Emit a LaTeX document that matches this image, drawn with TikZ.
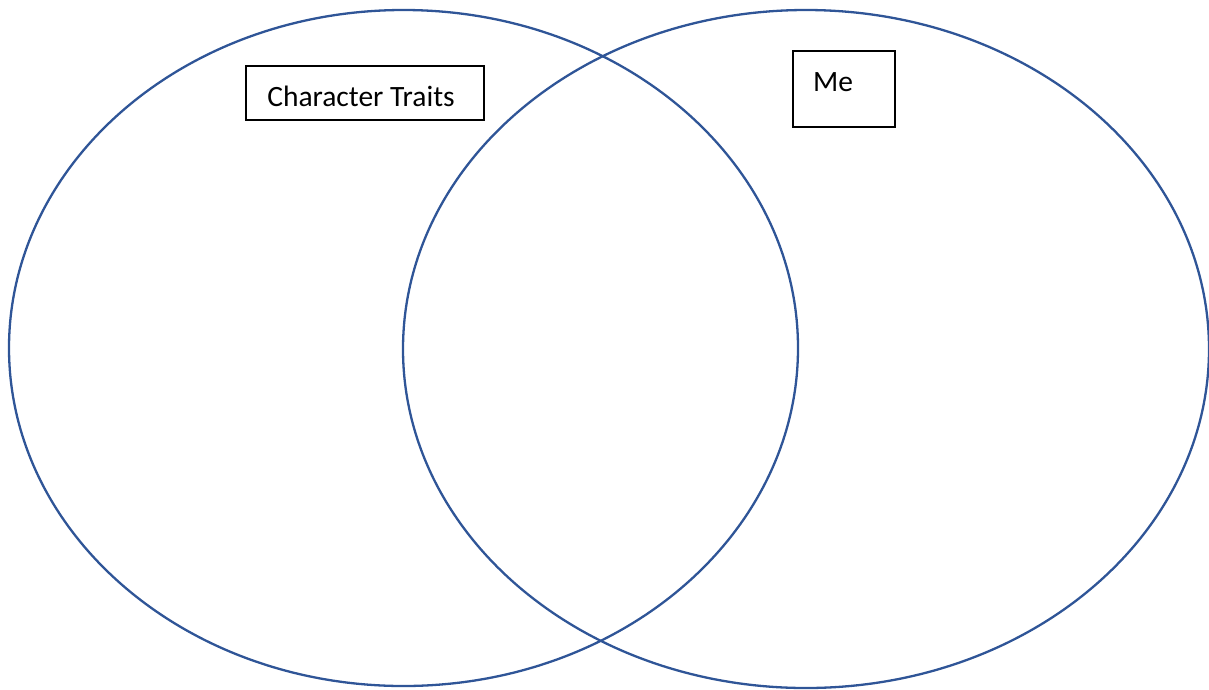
\documentclass[tikz,border=0pt]{standalone}
\usepackage{fontspec}
\setmainfont{Carlito}
\definecolor{vblue}{HTML}{2F5597}
\begin{document}
\begin{tikzpicture}[x=1pt,y=-1pt,
  circ/.style={draw=vblue,line width=2.3pt},
  lbl/.style={draw=black,line width=1.6pt,inner sep=0pt},
  txt/.style={inner sep=0pt,font=\fontsize{29.5}{34}\selectfont}]
\useasboundingbox (0,0) rectangle (1209,689);
\begin{scope}
\clip (0,0) rectangle (1209,689);
\draw[circ] (403.5,348) ellipse [x radius=394.5, y radius=338];
\draw[circ] (806,349) ellipse [x radius=403, y radius=339];
\end{scope}
\node[lbl,minimum width=238pt,minimum height=54pt] (ct) at (365,93) {};
\node[txt] (ctt) at (361,96) {Character Traits};
\node[lbl,minimum width=102pt,minimum height=76pt] (me) at (844,89) {};
\node[txt] (met) at (833,82) {Me};
\end{tikzpicture}
\end{document}
